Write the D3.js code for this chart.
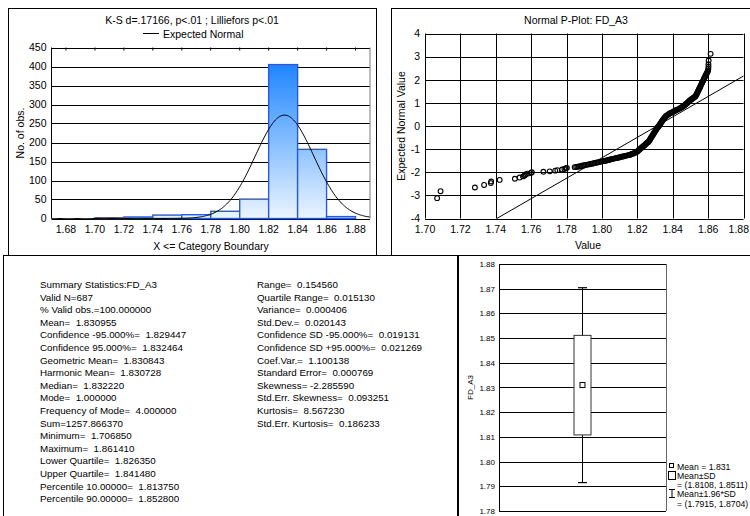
<!DOCTYPE html>
<html><head><meta charset="utf-8">
<script src="https://cdn.jsdelivr.net/npm/d3@7"></script>
<style>
body{margin:0;background:#fff}
svg{display:block;font-family:"Liberation Sans",Arial,sans-serif}
</style></head><body>
<svg id="c" width="750" height="516"></svg>
<script>
// ---------- data ----------
const histEdges  = [1.68,1.70,1.72,1.74,1.76,1.78,1.80,1.82,1.84,1.86,1.88];
const histCounts = [0,2,4,9,10,19,51,405,182,5];
const histXTicks = [1.68,1.70,1.72,1.74,1.76,1.78,1.80,1.82,1.84,1.86,1.88];
const histYTicks = [0,50,100,150,200,250,300,350,400,450];
const histTitle  = "K-S d=.17166, p<.01 ; Lilliefors p<.01";

const nValid = 687, meanValue = 1.830955, sdValue = 0.020143;

// sorted value vs expected normal value
const pplotPoints = [
 [1.70685,-3.12],[1.7088,-2.82],[1.7282,-2.66],[1.7334,-2.55],[1.7372,-2.47],[1.7374,-2.40],
 [1.7422,-2.33],[1.7508,-2.28],[1.7535,-2.23],[1.7554,-2.18],[1.7563,-2.14],[1.7568,-2.10],
 [1.7578,-2.06],[1.7598,-2.03],[1.7604,-2.00],[1.7669,-1.98],[1.7705,-1.96],[1.7736,-1.93],
 [1.7748,-1.91],[1.7775,-1.88],[1.7788,-1.86],[1.7796,-1.83],[1.7802,-1.81],
 [1.7846,-1.78],[1.7854,-1.77],[1.7862,-1.76],[1.7870,-1.75],[1.7878,-1.74],[1.7886,-1.72],
 [1.7894,-1.71],[1.7902,-1.70],[1.7910,-1.68],[1.7918,-1.67],[1.7926,-1.66],[1.7934,-1.64],
 [1.7942,-1.63],[1.7950,-1.62],[1.7958,-1.60],[1.7966,-1.59],[1.7974,-1.58],[1.7982,-1.56],
 [1.7990,-1.55],[1.7998,-1.54],[1.8006,-1.52],
 [1.8013,-1.51],[1.8020,-1.50],[1.8027,-1.49],[1.8034,-1.47],[1.8041,-1.46],[1.8048,-1.45],
 [1.8055,-1.43],[1.8062,-1.42],[1.8069,-1.41],[1.8076,-1.39],[1.8083,-1.38],[1.8090,-1.37],
 [1.8097,-1.36],[1.8104,-1.34],[1.8111,-1.33],[1.8118,-1.32],[1.8125,-1.31],[1.8132,-1.29],
 [1.8139,-1.28],[1.8146,-1.27],[1.8153,-1.25],[1.8160,-1.24],[1.8166,-1.22],[1.8172,-1.20],
 [1.8178,-1.19],[1.8184,-1.17],[1.8190,-1.15],[1.8195,-1.12],[1.8200,-1.10],[1.8205,-1.07],
 [1.8209,-1.04],[1.8213,-1.01],[1.8217,-0.98],[1.8221,-0.96],[1.8225,-0.93],[1.8229,-0.91],
 [1.8233,-0.88],[1.8237,-0.85],[1.8241,-0.83],[1.8245,-0.80],[1.8249,-0.77],[1.8253,-0.74],
 [1.8257,-0.72],[1.8261,-0.69],[1.8264,-0.67],[1.8268,-0.63],[1.8271,-0.59],[1.8274,-0.55],
 [1.8277,-0.51],[1.8280,-0.48],[1.8283,-0.44],[1.8286,-0.40],[1.8289,-0.37],[1.8292,-0.33],
 [1.8295,-0.29],[1.8298,-0.26],[1.8301,-0.22],[1.8304,-0.18],[1.8307,-0.15],[1.8310,-0.11],
 [1.8313,-0.08],[1.8316,-0.05],[1.8319,-0.02],[1.8322,0.00],[1.8325,0.04],[1.8328,0.07],
 [1.8331,0.11],[1.8334,0.14],[1.8337,0.18],[1.8340,0.21],[1.8343,0.25],[1.8346,0.28],
 [1.8350,0.32],[1.8354,0.36],[1.8358,0.39],[1.8362,0.43],[1.8367,0.46],
 [1.8373,0.49],[1.8379,0.52],[1.8385,0.55],[1.8391,0.57],[1.8397,0.59],[1.8403,0.62],
 [1.8409,0.64],[1.8415,0.67],[1.8421,0.69],[1.8427,0.71],[1.8433,0.73],[1.8439,0.76],
 [1.8445,0.78],[1.8451,0.81],[1.8457,0.84],[1.8462,0.87],[1.8467,0.90],[1.8472,0.93],
 [1.8476,0.96],[1.8480,0.98],[1.8484,1.01],
 [1.8488,1.04],[1.8492,1.07],[1.8496,1.10],[1.8500,1.12],[1.8504,1.15],[1.8508,1.17],
 [1.8512,1.19],[1.8516,1.21],[1.8520,1.23],[1.8524,1.26],[1.8528,1.28],[1.8531,1.32],
 [1.8534,1.36],[1.8537,1.41],[1.8540,1.45],[1.8543,1.50],[1.8546,1.55],[1.8549,1.60],
 [1.8552,1.64],[1.8555,1.69],[1.8558,1.74],[1.8561,1.79],[1.8564,1.84],[1.8567,1.88],
 [1.8570,1.93],[1.8573,1.98],[1.8576,2.03],[1.8579,2.08],[1.8582,2.12],[1.8585,2.17],
 [1.8588,2.22],[1.8591,2.26],[1.8594,2.30],[1.8597,2.35],[1.8600,2.40],
 [1.8601,2.47],[1.8602,2.56],[1.8602,2.67],[1.8603,2.83],[1.86141,3.12]
];
const pplotXTicks = [1.70,1.72,1.74,1.76,1.78,1.80,1.82,1.84,1.86,1.88];
const pplotYTicks = [-4,-3,-2,-1,0,1,2,3,4];
const pplotLineCenter = 1.8311, pplotLineScale = 0.02263;

const summaryLeft = [
 "Summary Statistics:FD_A3","Valid N=687","% Valid obs.=100.000000","Mean=  1.830955",
 "Confidence -95.000%=  1.829447","Confidence 95.000%=  1.832464","Geometric Mean=  1.830843",
 "Harmonic Mean=  1.830728","Median=  1.832220","Mode=  1.000000","Frequency of Mode=  4.000000",
 "Sum=1257.866370","Minimum=  1.706850","Maximum=  1.861410","Lower Quartile=  1.826350",
 "Upper Quartile=  1.841480","Percentile 10.00000=  1.813750","Percentile 90.00000=  1.852800"
];
const summaryRight = [
 "Range=  0.154560","Quartile Range=  0.015130","Variance=  0.000406","Std.Dev.=  0.020143",
 "Confidence SD -95.000%=  0.019131","Confidence SD +95.000%=  0.021269","Coef.Var.=  1.100138",
 "Standard Error=  0.000769","Skewness= -2.285590","Std.Err. Skewness=  0.093251",
 "Kurtosis=  8.567230","Std.Err. Kurtosis=  0.186233"
];

const boxMean = 1.831;
const boxSD = [1.8108, 1.8511];
const boxWhisk = [1.7915, 1.8704];
const boxYTicks = [1.78,1.79,1.80,1.81,1.82,1.83,1.84,1.85,1.86,1.87,1.88];
const boxVar = "FD_A3";

// ---------- drawing ----------
const svg = d3.select("#c");
const FONT = 10.5;

function panel(x0,y0,x1,y1){
  svg.append("rect").attr("x",x0+0.5).attr("y",y0+0.5).attr("width",x1-x0).attr("height",y1-y0)
    .attr("fill","#fff").attr("stroke","#000").attr("stroke-width",1);
}
panel(3,255,457,560);
panel(458,255,800,560);
panel(8,8,376,255);
panel(391,8,800,255);

// ===== histogram =====
{
  const L=51.5,R=370,T=47.5,B=218.5;
  const x = d3.scaleLinear().domain([1.67,1.89]).range([L,R]);
  const y = d3.scaleLinear().domain([0,450]).range([B,T]);
  const g = svg.append("g");
  const defs = svg.append("defs");
  const grad = defs.append("linearGradient").attr("id","barGrad")
    .attr("gradientUnits","userSpaceOnUse").attr("x1",0).attr("x2",0)
    .attr("y1",y(0)).attr("y2",y(410));
  grad.append("stop").attr("offset",0).attr("stop-color","#ecf5ff");
  grad.append("stop").attr("offset",1).attr("stop-color","#1c84ff");

  g.selectAll("line.grid").data(histYTicks).join("line")
    .attr("x1",L).attr("x2",R).attr("y1",d=>Math.round(y(d))+0.5).attr("y2",d=>Math.round(y(d))+0.5)
    .attr("stroke","#000").attr("stroke-width",1);

  const bins = histCounts.map((c,i)=>({x0:histEdges[i],x1:histEdges[i+1],c})).filter(d=>d.c>0);
  g.selectAll("rect.bar").data(bins).join("rect")
    .attr("x",d=>x(d.x0)).attr("width",d=>x(d.x1)-x(d.x0))
    .attr("y",d=>y(d.c)).attr("height",d=>y(0)-y(d.c))
    .attr("fill","url(#barGrad)").attr("stroke","#2a5ad6").attr("stroke-width",1.4);

  // expected normal curve
  const bw = histEdges[1]-histEdges[0];
  const xs = d3.range(0,301).map(i=>1.67+i*(0.22/300));
  const dens = v => nValid*bw/(sdValue*Math.sqrt(2*Math.PI))*Math.exp(-0.5*((v-meanValue)/sdValue)**2);
  g.append("path").datum(xs).attr("fill","none").attr("stroke","#000").attr("stroke-width",1)
    .attr("d",d3.line().x(d=>x(d)).y(d=>y(dens(d))));

  // frame
  g.append("line").attr("x1",L).attr("x2",L).attr("y1",T).attr("y2",B).attr("stroke","#000");
  g.append("line").attr("x1",R).attr("x2",R).attr("y1",T).attr("y2",B).attr("stroke","#777");
  g.selectAll("line.tk").data(histXTicks).join("line")
    .attr("x1",d=>x(d)).attr("x2",d=>x(d)).attr("y1",T).attr("y2",T+3).attr("stroke","#000");

  g.selectAll("text.yt").data(histYTicks).join("text")
    .attr("x",L-5).attr("y",d=>y(d)+3.8).attr("text-anchor","end").attr("font-size",FONT).text(d=>d);
  g.selectAll("text.xt").data(histXTicks).join("text")
    .attr("x",d=>x(d)).attr("y",232.5).attr("text-anchor","middle").attr("font-size",FONT).text(d3.format(".2f"));
  g.append("text").attr("x",211).attr("y",250).attr("text-anchor","middle").attr("font-size",FONT)
    .text("X <= Category Boundary");
  g.append("text").attr("transform","translate(24,133) rotate(-90)").attr("text-anchor","middle")
    .attr("font-size",FONT).text("No. of obs.");
  g.append("text").attr("x",192).attr("y",24).attr("text-anchor","middle").attr("font-size",FONT).text(histTitle);
  g.append("line").attr("x1",143).attr("x2",159).attr("y1",33.5).attr("y2",33.5).attr("stroke","#000");
  g.append("text").attr("x",163).attr("y",37.5).attr("font-size",FONT).text("Expected Normal");
}

// ===== normal probability plot =====
{
  const L=425,R=743.5,T=33.5,B=218.5;
  const x = d3.scaleLinear().domain([1.70,1.88]).range([L,R]);
  const y = d3.scaleLinear().domain([-4,4]).range([B,T]);
  const g = svg.append("g");
  g.selectAll("line.gy").data(pplotYTicks).join("line")
    .attr("x1",L).attr("x2",R).attr("y1",d=>Math.round(y(d))+0.5).attr("y2",d=>Math.round(y(d))+0.5)
    .attr("stroke","#000");
  g.selectAll("line.gx").data(pplotXTicks).join("line")
    .attr("y1",T).attr("y2",B).attr("x1",d=>Math.round(x(d))+0.5).attr("x2",d=>Math.round(x(d))+0.5)
    .attr("stroke","#000");
  // fitted reference line
  const zAt = v => (v-pplotLineCenter)/pplotLineScale;
  const vAt = z => pplotLineCenter + z*pplotLineScale;
  g.append("line").attr("x1",x(vAt(-4))).attr("y1",y(-4)).attr("x2",x(1.88)).attr("y2",y(zAt(1.88)))
    .attr("stroke","#000").attr("stroke-width",1);
  g.selectAll("circle").data(pplotPoints).join("circle")
    .attr("cx",d=>x(d[0])).attr("cy",d=>y(d[1])).attr("r",2.4)
    .attr("fill","none").attr("stroke","#000").attr("stroke-width",1.1);
  g.selectAll("text.yt").data(pplotYTicks).join("text")
    .attr("x",L-5).attr("y",d=>y(d)+3.8).attr("text-anchor","end").attr("font-size",FONT).text(d=>d);
  // last label sits at the panel edge, so it is right-aligned to stay visible
  g.selectAll("text.xt").data(pplotXTicks).join("text")
    .attr("x",(d,i)=>i===pplotXTicks.length-1 ? 749 : x(d)).attr("y",232.5)
    .attr("text-anchor",(d,i)=>i===pplotXTicks.length-1 ? "end" : "middle")
    .attr("font-size",FONT).text(d3.format(".2f"));
  g.append("text").attr("x",588).attr("y",249).attr("text-anchor","middle").attr("font-size",FONT).text("Value");
  g.append("text").attr("transform","translate(405,126) rotate(-90)").attr("text-anchor","middle")
    .attr("font-size",FONT).text("Expected Normal Value");
  g.append("text").attr("x",576).attr("y",24).attr("text-anchor","middle").attr("font-size",FONT)
    .text("Normal P-Plot: FD_A3");
}

// ===== summary statistics text =====
{
  const g = svg.append("g").attr("font-size",9.8);
  const top = 288, step = 12.6;
  g.selectAll("text.l").data(summaryLeft).join("text")
    .attr("x",40).attr("y",(d,i)=>top+i*step).style("white-space","pre").text(d=>d);
  g.selectAll("text.r").data(summaryRight).join("text")
    .attr("x",257).attr("y",(d,i)=>top+i*step).style("white-space","pre").text(d=>d);
}

// ===== box plot =====
{
  const L=499,R=666,T=264,B=511;
  const y = d3.scaleLinear().domain([1.78,1.88]).range([B,T]);
  const cx = (L+R)/2;
  const g = svg.append("g");
  g.selectAll("line.gy").data(boxYTicks).join("line")
    .attr("x1",L).attr("x2",R).attr("y1",d=>Math.round(y(d))+0.5).attr("y2",d=>Math.round(y(d))+0.5)
    .attr("stroke","#000");
  g.append("line").attr("x1",L+0.5).attr("x2",L+0.5).attr("y1",T).attr("y2",B).attr("stroke","#000");
  g.append("line").attr("x1",R+0.5).attr("x2",R+0.5).attr("y1",T).attr("y2",B).attr("stroke","#666");
  // whiskers
  g.append("line").attr("x1",cx).attr("x2",cx).attr("y1",y(boxWhisk[0])).attr("y2",y(boxWhisk[1]))
    .attr("stroke","#000");
  g.selectAll("line.cap").data(boxWhisk).join("line")
    .attr("x1",cx-4.5).attr("x2",cx+4.5).attr("y1",d=>y(d)).attr("y2",d=>y(d)).attr("stroke","#000").attr("stroke-width",1.2);
  g.append("rect").attr("x",cx-8.5).attr("width",17).attr("y",y(boxSD[1])).attr("height",y(boxSD[0])-y(boxSD[1]))
    .attr("fill","#fff").attr("stroke","#333").attr("stroke-width",1);
  g.append("rect").attr("x",cx-2.5).attr("y",y(boxMean)-2.5).attr("width",5).attr("height",5)
    .attr("fill","#fff").attr("stroke","#000").attr("stroke-width",1);

  g.selectAll("text.yt").data(boxYTicks).join("text")
    .attr("x",L-4).attr("y",d=>y(d)+3).attr("text-anchor","end").attr("font-size",8).text(d3.format(".2f"));
  g.append("text").attr("transform",`translate(473,${y(1.83)}) rotate(-90)`).attr("text-anchor","middle")
    .attr("font-size",8).text(boxVar);

  // legend
  const lx = 668, fs = 8.7;
  g.append("rect").attr("x",lx+1.5).attr("y",463.5).attr("width",4).attr("height",4)
    .attr("fill","#fff").attr("stroke","#000");
  g.append("text").attr("x",lx+9).attr("y",469.5).attr("font-size",fs).text(`Mean = ${boxMean.toFixed(3)}`);
  g.append("rect").attr("x",lx+0.5).attr("y",471.5).attr("width",7).attr("height",8)
    .attr("fill","#fff").attr("stroke","#000");
  g.append("text").attr("x",lx+9).attr("y",479).attr("font-size",fs).text("Mean±SD");
  g.append("text").attr("x",lx+9).attr("y",488).attr("font-size",fs)
    .text(`= (${boxSD[0].toFixed(4)}, ${boxSD[1].toFixed(4)})`);
  g.append("path").attr("d",`M${lx+1},489.5H${lx+7}M${lx+4},489.5V497.5M${lx+1},497.5H${lx+7}`)
    .attr("stroke","#000").attr("fill","none");
  g.append("text").attr("x",lx+9).attr("y",496.5).attr("font-size",fs).text("Mean±1.96*SD");
  g.append("text").attr("x",lx+9).attr("y",506.5).attr("font-size",fs)
    .text(`= (${boxWhisk[0].toFixed(4)}, ${boxWhisk[1].toFixed(4)})`);
}
</script>
</body></html>
